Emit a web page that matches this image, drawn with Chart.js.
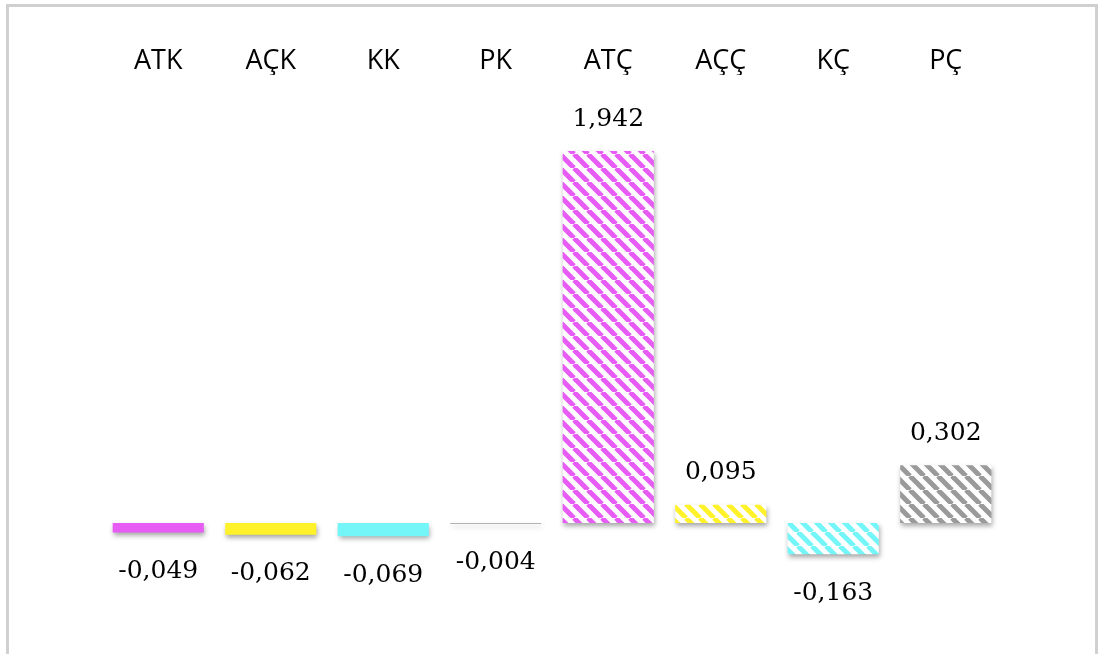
<!DOCTYPE html>
<html>
<head>
<meta charset="utf-8">
<script src="https://cdn.jsdelivr.net/npm/chart.js@4"></script>
<style>
  html, body { margin: 0; padding: 0; background: #fff; }
  #frame {
    position: absolute; left: 6px; top: 4px; width: 1092px; height: 680px;
    border: 3px solid #d0d0d0; box-sizing: border-box;
  }
  #wrap { position: absolute; left: 0; top: 0; width: 1098px; height: 654px; }
</style>
</head>
<body>
<div id="frame"></div>
<div id="wrap"><canvas id="grafico" width="1098" height="654"></canvas></div>
<script>
// Categorías y valores
const categorias = ['ATK', 'AÇK', 'KK', 'PK', 'ATÇ', 'AÇÇ', 'KÇ', 'PÇ'];
const valores = [-0.049, -0.062, -0.069, -0.004, 1.942, 0.095, -0.163, 0.302];
const etiquetas = ['-0,049', '-0,062', '-0,069', '-0,004', '1,942', '0,095', '-0,163', '0,302'];
const colores = ['#e85cf6', '#fff22a', '#74f6f8', '#9a9a9a', '#e85cf6', '#fff22a', '#74f6f8', '#9a9a9a'];
const rayado = [false, false, false, false, true, true, true, true];

// Patrón rayado diagonal
function patron(color) {
    const p = 14;
    const c = document.createElement('canvas');
    c.width = p; c.height = p;
    const g = c.getContext('2d');
    g.fillStyle = '#fff';
    g.fillRect(0, 0, p, p);
    g.strokeStyle = color;
    g.lineWidth = 5;
    for (let x0 = -p; x0 <= p; x0 += p) {
        g.beginPath();
        g.moveTo(x0, 0);
        g.lineTo(x0 + p, p);
        g.stroke();
    }
    return g.createPattern(c, 'repeat');
}

const fondos = colores.map((c, i) => rayado[i] ? patron(c) : c);

// Sombra bajo las barras
const sombra = {
    id: 'sombra',
    beforeDatasetsDraw(chart) {
        const ctx = chart.ctx;
        ctx.save();
        ctx.shadowColor = 'rgba(0,0,0,0.35)';
        ctx.shadowBlur = 5;
        ctx.shadowOffsetX = 1;
        ctx.shadowOffsetY = 3;
    },
    afterDatasetsDraw(chart) {
        chart.ctx.restore();
    }
};

// Etiquetas de valores
const valoresTexto = {
    id: 'valoresTexto',
    afterDatasetsDraw(chart) {
        const ctx = chart.ctx;
        const meta = chart.getDatasetMeta(0);
        ctx.save();
        ctx.font = '25px "DejaVu Serif"';
        ctx.fillStyle = '#000';
        ctx.textAlign = 'center';
        ctx.textBaseline = 'middle';
        meta.data.forEach((bar, i) => {
            const v = valores[i];
            const y = v >= 0 ? bar.y - 32 : bar.y + 39;
            ctx.fillText(etiquetas[i], bar.x, y);
        });
        ctx.restore();
    }
};

const ctx = document.getElementById('grafico').getContext('2d');
new Chart(ctx, {
    type: 'bar',
    data: {
        labels: categorias,
        datasets: [{
            data: valores,
            backgroundColor: fondos,
            borderWidth: 0,
            barPercentage: 0.81,
            categoryPercentage: 1.0
        }]
    },
    options: {
        responsive: false,
        animation: false,
        devicePixelRatio: 1,
        layout: { padding: { left: 102, right: 96, top: 40, bottom: 0 } },
        plugins: { legend: { display: false }, tooltip: { enabled: false } },
        scales: {
            x: {
                position: 'top',
                grid: { display: false, drawTicks: false },
                border: { display: false },
                ticks: { font: { family: 'Open Sans', size: 27 }, color: '#000', padding: -3, maxRotation: 0 },
                afterFit(scale) { scale.height = 35; }
            },
            y: {
                display: false,
                min: -0.684,
                max: 2.339
            }
        }
    },
    plugins: [sombra, valoresTexto]
});
</script>
</body>
</html>
